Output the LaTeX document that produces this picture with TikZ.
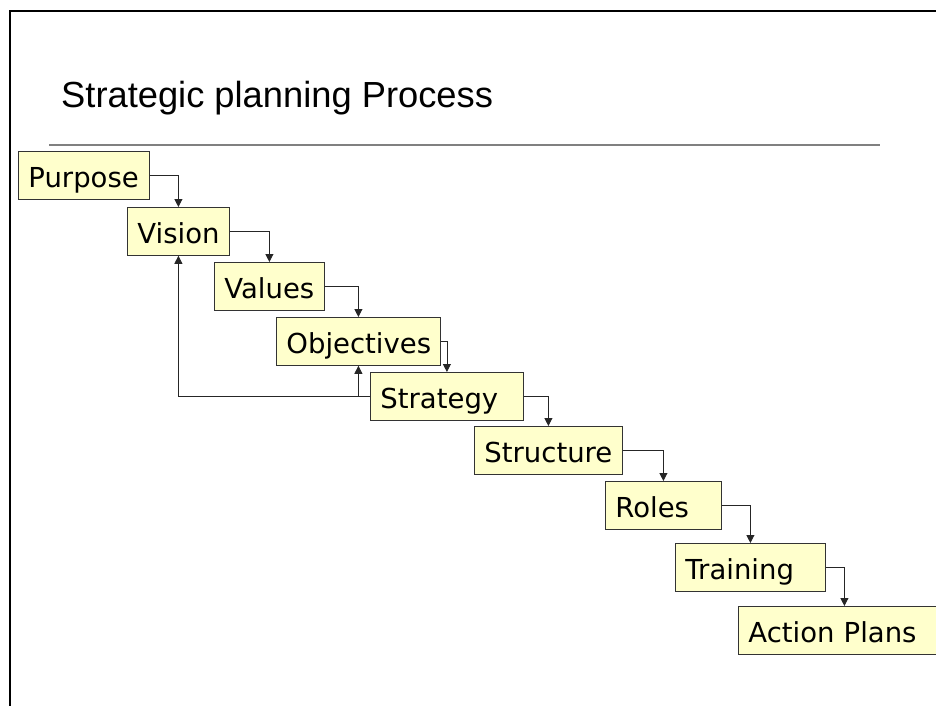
\documentclass[tikz,border=0pt]{standalone}
\usepackage{fontspec}
\usetikzlibrary{arrows.meta}
\newfontfamily\titlefont{Liberation Sans}
\newfontfamily\boxfont{DejaVu Sans}
\definecolor{cream}{HTML}{FFFFCC}
\definecolor{rulegray}{HTML}{808080}
\definecolor{edgegray}{HTML}{333333}
\begin{document}
\begin{tikzpicture}[x=1pt,y=-1pt,
  stepbox/.style={draw=edgegray, fill=cream, line width=0.8pt, anchor=north west,
    minimum height=48pt, inner xsep=10pt, inner ysep=2pt,
    text height=26pt, text depth=2pt, align=left,
    font=\boxfont\fontsize{27.5}{30}\selectfont},
  conn/.style={draw=black!85, line width=0.8pt, -{Triangle[width=8pt,length=8pt]}},
  frame/.style={line width=2pt, black},
]
\useasboundingbox (0,0) rectangle (936,706);

% slide frame and title
\draw[frame] (10,720) -- (10,11) -- (940,11);
\node[anchor=base west, inner sep=0pt, font=\titlefont\fontsize{36.3}{40}\selectfont] (title) at (61,107) {Strategic planning Process};
\draw[rulegray, line width=2pt] (49,145) -- (880,145);

% process steps
\node[stepbox, text width=111pt] (purpose)    at (18,151)  {Purpose};
\node[stepbox, text width=82pt]  (vision)     at (127,207) {Vision};
\node[stepbox, text width=90pt]  (values)     at (214,262) {Values};
\node[stepbox, text width=144pt] (objectives) at (276,317) {Objectives};
\node[stepbox, text width=133pt] (strategy)   at (370,372) {Strategy};
\node[stepbox, text width=128pt] (structure)  at (474,426) {Structure};
\node[stepbox, text width=96pt]  (roles)      at (605,481) {Roles};
\node[stepbox, text width=130pt] (training)   at (675,543) {Training};
\node[stepbox, text width=192pt] (action)     at (738,606) {Action Plans};

% forward flow
\draw[conn] (purpose.east)    -| (vision.north);
\draw[conn] (vision.east)     -| (values.north);
\draw[conn] (values.east)     -| (objectives.north);
\draw[conn] (objectives.east) -| (strategy.north);
\draw[conn] (strategy.east)   -| (structure.north);
\draw[conn] (structure.east)  -| (roles.north);
\draw[conn] (roles.east)      -| (training.north);
\draw[conn] (training.east)   -| (action.north);

% feedback from strategy
\draw[conn] (strategy.west) -| (vision.south);
\draw[conn] (objectives.south |- strategy.west) -- (objectives.south);
\end{tikzpicture}
\end{document}
